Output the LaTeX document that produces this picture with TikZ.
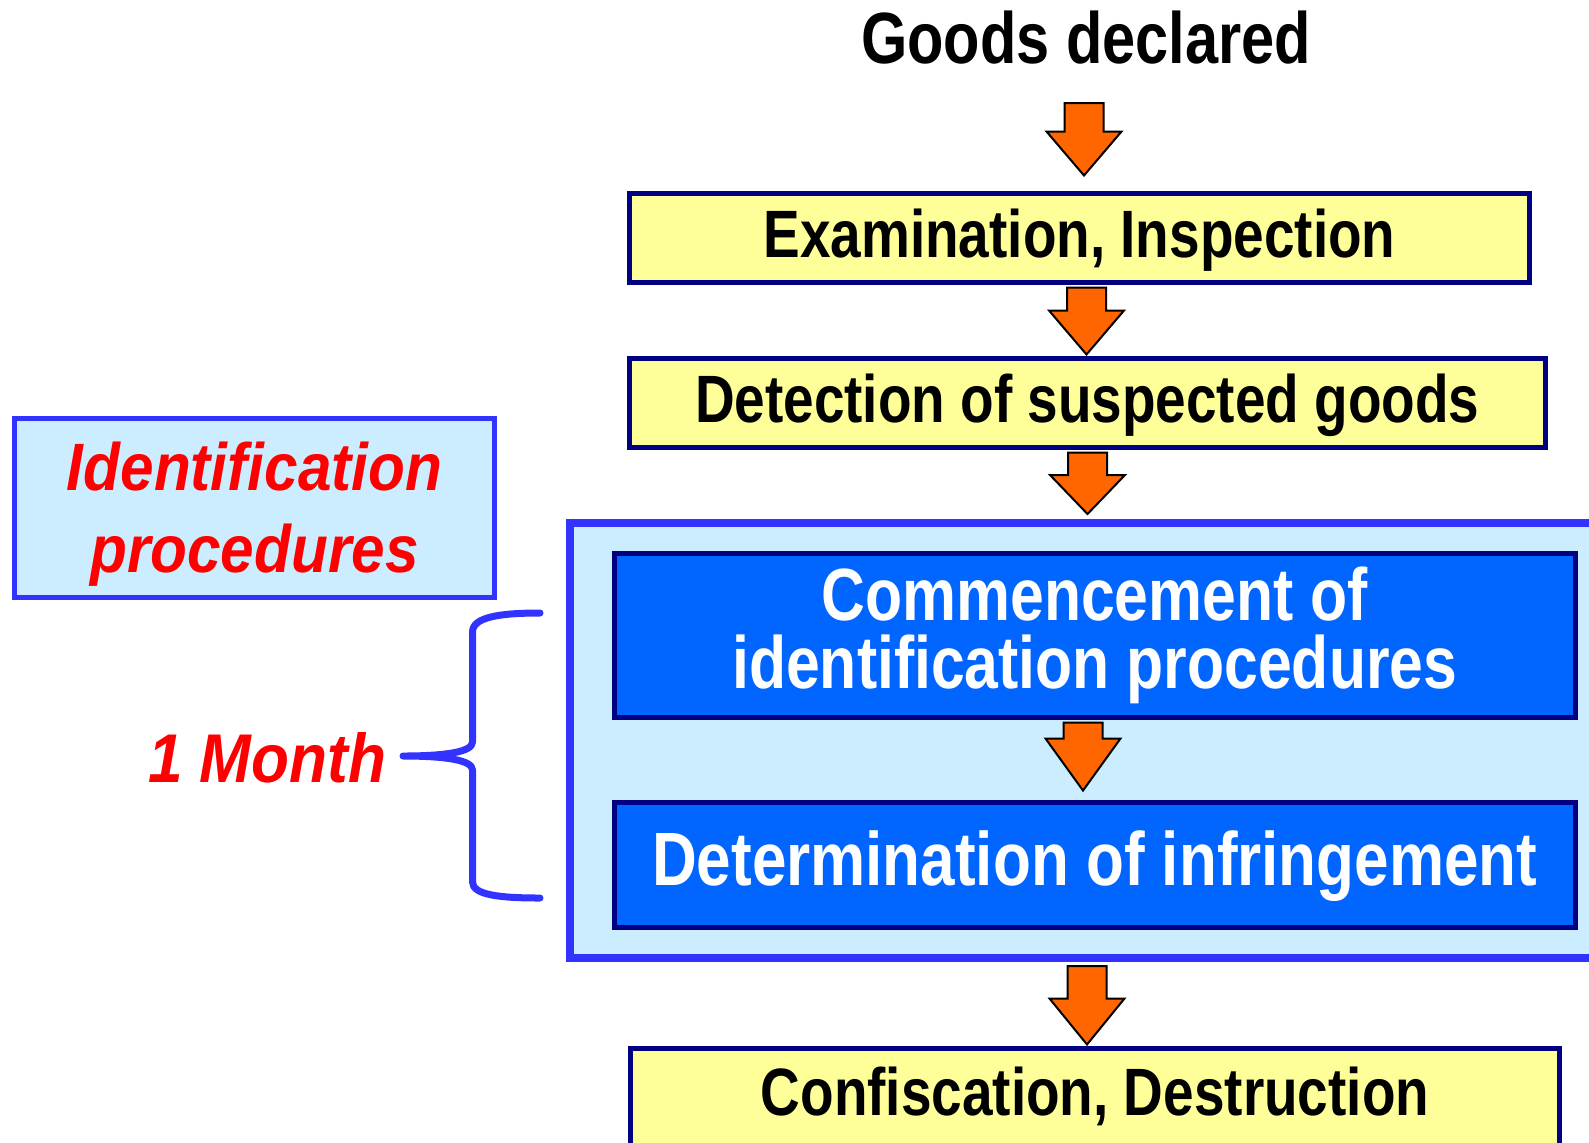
\documentclass[tikz,border=0pt]{standalone}
\usepackage{fontspec}
\setmainfont{Liberation Sans}
\newfontfamily\narrowfont[FakeStretch=0.82]{Liberation Sans}
\newfontfamily\reditfont[FakeStretch=0.9]{Liberation Sans}
\usetikzlibrary{calc}
\definecolor{boxyellow}{HTML}{FFFF99}
\definecolor{navyline}{HTML}{000080}
\definecolor{boxblue}{HTML}{0066FF}
\definecolor{paleblue}{HTML}{CCECFF}
\definecolor{frameblue}{HTML}{3333FF}
\definecolor{arroworange}{HTML}{FF6600}
\definecolor{textred}{HTML}{FF0000}

% fat block arrow: {from}{from offset px}{to}{to offset px}{x centre px}{head length px}
\newcommand\fatarrow[6]{%
  \path[fatarr] let \p1=(#1), \p2=(#3) in
   ({(#5-19.5)*0.5pt},{\y1-(#2)*0.5pt}) -- ({(#5+19.5)*0.5pt},{\y1-(#2)*0.5pt})
   -- ({(#5+19.5)*0.5pt},{\y2-(#4)*0.5pt+(#6)*0.5pt}) -- ({(#5+37.5)*0.5pt},{\y2-(#4)*0.5pt+(#6)*0.5pt})
   -- ({(#5)*0.5pt},{\y2-(#4)*0.5pt}) -- ({(#5-37.5)*0.5pt},{\y2-(#4)*0.5pt+(#6)*0.5pt})
   -- ({(#5-19.5)*0.5pt},{\y2-(#4)*0.5pt+(#6)*0.5pt}) -- cycle;}

\tikzset{
  ybox/.style={draw=navyline, fill=boxyellow, line width=2.5pt, inner sep=0pt,
    font=\narrowfont\bfseries\fontsize{33.5}{40}\selectfont, text height=24pt, text depth=4.5pt},
  bluebox/.style={draw=navyline, fill=boxblue, line width=2.5pt, inner sep=0pt, text=white,
    font=\narrowfont\bfseries\fontsize{37}{34}\selectfont, align=center},
  palebox/.style={draw=frameblue, fill=paleblue, inner sep=0pt},
  redtext/.style={text=textred, font=\reditfont\bfseries\itshape\fontsize{33.5}{41}\selectfont},
  fatarr/.style={fill=arroworange, draw=black, line width=1pt, line join=miter},
  bracestyle/.style={draw=frameblue, line width=3.5pt, line cap=round, line join=round},
}

\begin{document}
\begin{tikzpicture}[x=0.5pt, y=-0.5pt]
\useasboundingbox (0,0) rectangle (1589,1142);
\fill[white] (0,0) rectangle (1589,1142);
\clip (0,0) rectangle (1589,1142);

% top label
\node[font=\narrowfont\bfseries\fontsize{36.3}{40}\selectfont, anchor=base, inner sep=0pt]
  (goods) at (1086,63) {Goods declared};

% yellow steps
\node[ybox, minimum width=450pt, minimum height=44.5pt] (box1) at (1079.5,238) {Examination, Inspection};
\node[ybox, minimum width=457.75pt, minimum height=44.5pt] (box2) at (1087.25,403) {Detection of suspected goods};

% identification container
\node[palebox, line width=4pt, minimum width=540.25pt, minimum height=217.5pt] (big) at (1109.75,740) {};
\node[bluebox, minimum width=480.25pt, minimum height=82pt] (blue1) at (1094.75,635.5)
  {Commencement of\\identification procedures};
\node[bluebox, font=\narrowfont\bfseries\fontsize{37.8}{34}\selectfont, minimum width=480.25pt,
  minimum height=62.5pt, text height=27pt, text depth=7pt]
  (blue2) at (1094.75,865) {Determination of infringement};

% final step
\node[ybox, minimum width=464.25pt, minimum height=55pt, text depth=12pt] (final) at (1095,1103)
  {Confiscation, Destruction};

% left legend box
\node[palebox, line width=2.5pt, minimum width=240pt, minimum height=89.5pt, redtext, align=center]
  (idproc) at (254.5,507.5) {\rule{0pt}{31.2pt}Identification\\procedures};

% 1 month label
\node[redtext, font=\reditfont\bfseries\itshape\fontsize{34.5}{41}\selectfont, anchor=base, inner sep=0pt]
  (month) at (267,782) {1 Month};

% brace
\coordinate (bracetop) at (540,613);
\coordinate (bracetip) at (403,756);
\coordinate (bracebot) at (540,898);
\draw[bracestyle] (bracetop) .. controls (500,613) and (472.5,617) .. (472.5,632)
  -- (472.5,742) .. controls (472.5,752) and (445,756) .. (bracetip)
  .. controls (445,756) and (472.5,760) .. (472.5,770)
  -- (472.5,882) .. controls (472.5,895) and (500,898) .. (bracebot);

% arrows
\fatarrow{goods.base}{40}{box1.north}{-15.5}{1084}{44}
\fatarrow{box1.south}{2.5}{box2.north}{-1.5}{1086.5}{44}
\fatarrow{box2.south}{2.5}{big.north}{-4.5}{1087.5}{39}
\fatarrow{blue1.south}{2.5}{blue2.north}{-9.5}{1083}{52}
\fatarrow{big.south}{4.5}{final.north}{-1}{1087}{46}
\end{tikzpicture}
\end{document}
